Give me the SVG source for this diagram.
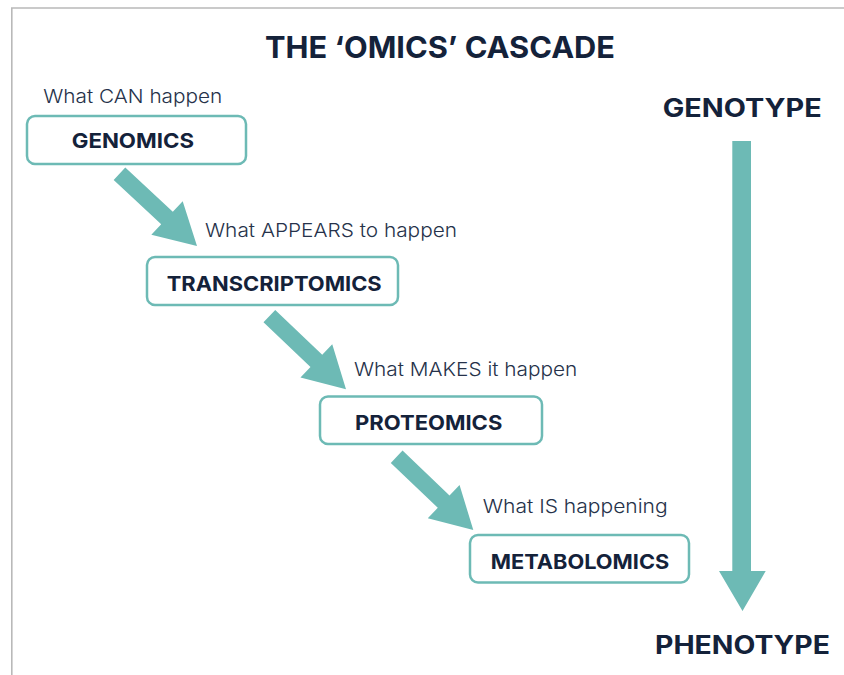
<svg xmlns="http://www.w3.org/2000/svg" width="844" height="675" viewBox="0 0 844 675">
  <style>
    .frame { fill: none; stroke: #b9b9b9; stroke-width: 1.6; }
    .box { fill: #ffffff; stroke: #6dbab5; stroke-width: 2.5; }
    .arrow { fill: #6dbab5; }
    .head { font-family: Inter, "Liberation Sans", sans-serif; font-weight: 700; fill: #14223a; }
    .note { font-family: Inter, "Liberation Sans", sans-serif; font-weight: 300; fill: #26324a; font-size: 19px; }
  </style>
  <defs>
    <!-- block arrow pointing along +x, tip at the origin -->
    <path id="blockArrow" d="M -106,-8.5 L -41,-8.5 L -41,-23 L 0,0 L -41,23 L -41,8.5 L -106,8.5 Z"/>
  </defs>

  <rect width="844" height="675" fill="#ffffff"/>
  <path class="frame" d="M 11.8,675 L 11.8,8 L 844,8"/>

  <text class="head" x="265" y="58.3" font-size="30" textLength="350" lengthAdjust="spacingAndGlyphs">THE ‘OMICS’ CASCADE</text>

  <g id="connectors">
    <use href="#blockArrow" class="arrow" transform="translate(197,246) rotate(43)"/>
    <use href="#blockArrow" class="arrow" transform="translate(346,389.3) rotate(43.7)"/>
    <use href="#blockArrow" class="arrow" transform="translate(473.3,530) rotate(43.7)"/>
    <path id="genotype-phenotype" class="arrow" d="M 732.3,141 L 751,141 L 751,571 L 765.7,571 L 742.5,611 L 719,571 L 732.3,571 Z"/>
  </g>

  <g id="genomics">
    <text class="note" x="43.3" y="102.7" textLength="179" lengthAdjust="spacingAndGlyphs">What CAN happen</text>
    <rect class="box" x="27" y="116" width="219" height="48" rx="8"/>
    <text class="head" x="71.7" y="147.7" font-size="20.5" textLength="122.3" lengthAdjust="spacingAndGlyphs">GENOMICS</text>
  </g>

  <g id="transcriptomics">
    <text class="note" x="205" y="236.7" textLength="252" lengthAdjust="spacingAndGlyphs">What APPEARS to happen</text>
    <rect class="box" x="147" y="257" width="251" height="48" rx="8"/>
    <text class="head" x="166.7" y="290.5" font-size="20.5" textLength="215" lengthAdjust="spacingAndGlyphs">TRANSCRIPTOMICS</text>
  </g>

  <g id="proteomics">
    <text class="note" x="354" y="376" textLength="223.3" lengthAdjust="spacingAndGlyphs">What MAKES it happen</text>
    <rect class="box" x="320" y="396.5" width="222" height="47.5" rx="8"/>
    <text class="head" x="355" y="429.5" font-size="20.5" textLength="147.3" lengthAdjust="spacingAndGlyphs">PROTEOMICS</text>
  </g>

  <g id="metabolomics">
    <text class="note" x="482.7" y="513.3" textLength="185" lengthAdjust="spacingAndGlyphs">What IS happening</text>
    <rect class="box" x="470" y="535" width="219" height="47.5" rx="8"/>
    <text class="head" x="490.7" y="569.2" font-size="20.5" textLength="178.6" lengthAdjust="spacingAndGlyphs">METABOLOMICS</text>
  </g>

  <g id="genotype">
    <text class="head" x="662.7" y="116.5" font-size="25" textLength="159" lengthAdjust="spacingAndGlyphs">GENOTYPE</text>
  </g>

  <g id="phenotype">
    <text class="head" x="655" y="654" font-size="25" textLength="175" lengthAdjust="spacingAndGlyphs">PHENOTYPE</text>
  </g>
</svg>
